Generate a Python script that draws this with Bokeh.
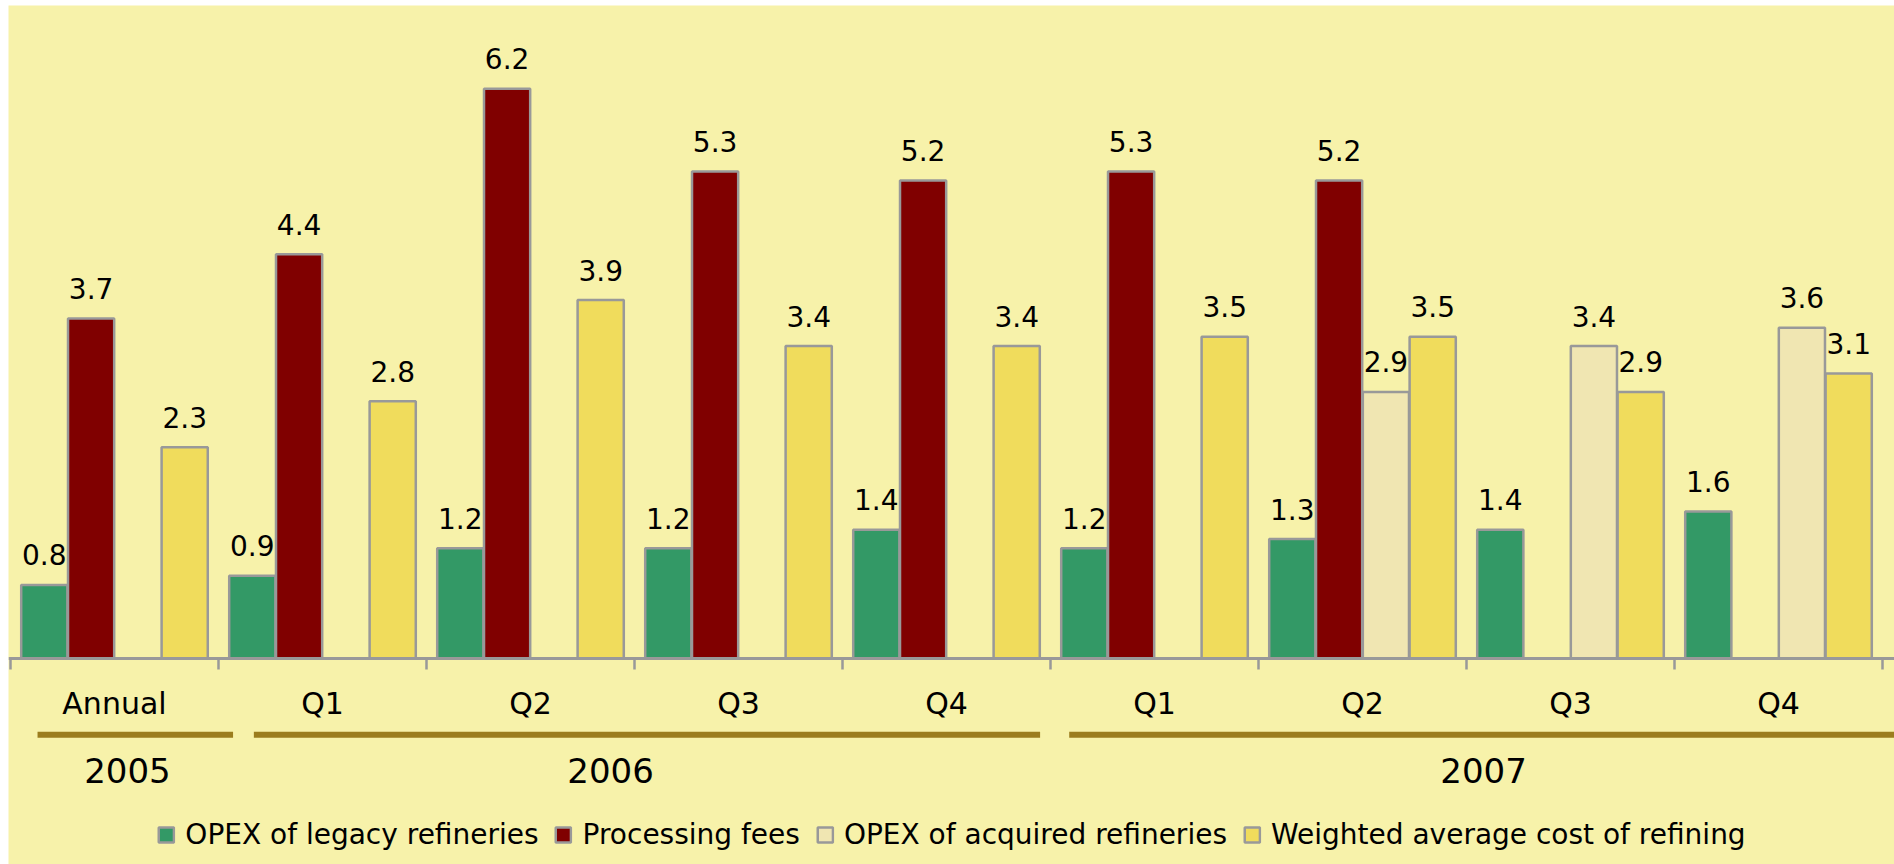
import numpy as np
from bokeh.plotting import figure
from bokeh.models import LinearAxis, FixedTicker, ColumnDataSource
from bokeh.core.properties import value
from bokeh.embed import file_html
from bokeh.resources import INLINE

# ---------------- data ----------------
categories = ["Annual", "Q1", "Q2", "Q3", "Q4", "Q1", "Q2", "Q3", "Q4"]
years = ["2005", "2006", "2007"]
year_group_sizes = [1, 4, 4]
series_names = ["OPEX of legacy refineries", "Processing fees",
                "OPEX of acquired refineries", "Weighted average cost of refining"]
opex_legacy = [0.8, 0.9, 1.2, 1.2, 1.4, 1.2, 1.3, 1.4, 1.6]
processing_fees = [3.7, 4.4, 6.2, 5.3, 5.2, 5.3, 5.2, None, None]
opex_acquired = [None, None, None, None, None, None, 2.9, 3.4, 3.6]
weighted_avg = [2.3, 2.8, 3.9, 3.4, 3.4, 3.5, 3.5, 2.9, 3.1]

# ---------------- style ----------------
colors = ["#339966", "#800000", "#F0E6B2", "#F0DC5C"]
bg = "#F7F2AA"
gold = "#9B7D1E"
edge = "#999999"
FONT = "DejaVu Sans"
slot = 0.225
offsets = [-1.5 * slot, -0.5 * slot, 0.5 * slot, 1.5 * slot]
bar_w = 0.222

W, H = 1894, 864
p = figure(width=W, height=H, x_range=(-0.0096, 9.0577), y_range=(-2.2416, 7.1055),
           toolbar_location=None, output_backend="svg",
           x_axis_location=None, y_axis_location=None,
           min_border_left=8, min_border_top=5, min_border_right=0, min_border_bottom=0)
p.background_fill_color = bg
p.border_fill_color = "white"
p.outline_line_color = None
p.grid.visible = False

n = len(categories)
centers = np.arange(n) + 0.5
all_series = [opex_legacy, processing_fees, opex_acquired, weighted_avg]
for i, (vals, name) in enumerate(zip(all_series, series_names)):
    idx = [k for k, v in enumerate(vals) if v is not None]
    src = ColumnDataSource(dict(
        x=[centers[k] + offsets[i] for k in idx],
        top=[vals[k] for k in idx],
        label=[f"{vals[k]:.1f}" for k in idx]))
    p.vbar(x="x", top="top", bottom=0, width=bar_w, source=src,
           fill_color=colors[i], line_color=edge, line_width=2.5,
           legend_label=name)
    p.text(x="x", y="top", text="label", source=src, text_align="center",
           text_baseline="alphabetic", y_offset=-30,
           text_font=value(FONT), text_font_size="28px", text_color="black")

# category axis at the baseline: labels at centres, tick marks at boundaries
ax = LinearAxis(fixed_location=0,
                ticker=FixedTicker(ticks=list(centers), minor_ticks=list(range(n + 1))),
                axis_line_color=edge, axis_line_width=3,
                major_tick_line_color=None, major_tick_out=0, major_tick_in=0,
                minor_tick_line_color=edge, minor_tick_line_width=2.5,
                minor_tick_out=11, minor_tick_in=0,
                major_label_overrides={float(c): lab for c, lab in zip(centers, categories)},
                major_label_standoff=17,
                major_label_text_font=FONT, major_label_text_font_size="30px",
                major_label_text_color="black")
p.add_layout(ax, "below")

# year group lines and labels
starts = np.cumsum([0] + year_group_sizes[:-1])
ends = np.cumsum(year_group_sizes)
left_inset = [0.13, 0.17, 0.09]
right_adj = [0.07, -0.05, 0.06]
year_x_adj = [0.062, -0.115, 0.082]
line_y = -0.83
year_y = -1.224
p.segment(x0=list(starts + np.array(left_inset)), y0=[line_y] * 3,
          x1=list(ends + np.array(right_adj)), y1=[line_y] * 3,
          line_color=gold, line_width=6)
p.text(x=list((starts + ends) / 2 + np.array(year_x_adj)), y=[year_y] * 3, text=years,
       text_align="center", text_baseline="middle",
       text_font=value(FONT), text_font_size="34px", text_color="black")

lg = p.legend[0]
lg.location = "bottom_center"
lg.orientation = "horizontal"
lg.border_line_color = None
lg.background_fill_alpha = 0
lg.label_text_font = FONT
lg.label_text_font_size = "28px"
lg.label_text_color = "black"
lg.glyph_width = 19
lg.glyph_height = 19
lg.label_standoff = 10
lg.spacing = 15
lg.padding = 0
lg.margin = 13

open("out.html", "w").write(file_html(p, INLINE))
